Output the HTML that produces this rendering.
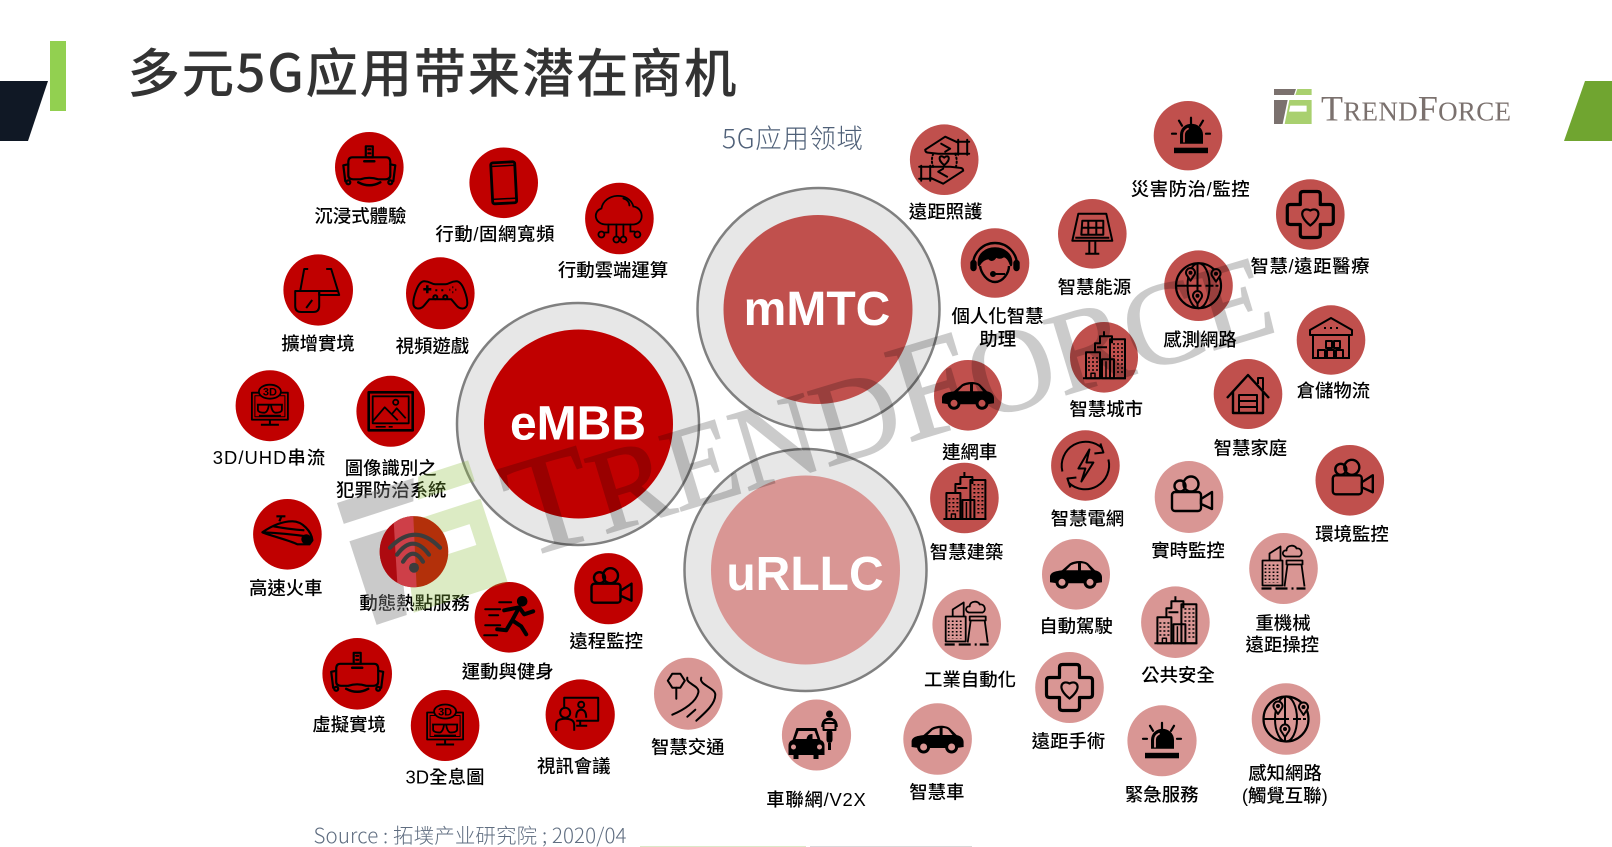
<!DOCTYPE html>
<html><head><meta charset="utf-8"><style>
html,body{margin:0;padding:0;background:#fff;width:1612px;height:847px;overflow:hidden}
svg{display:block}
.r{--c:#C00000}.m{--c:#C0504D}.u{--c:#D99694}
.c{fill:var(--c)}
.t{font-family:"Liberation Sans","Noto Sans CJK TC",sans-serif;font-size:18.4px;font-weight:500;fill:#000;text-anchor:middle}
.b{font-family:"Liberation Sans",sans-serif;font-weight:700;font-size:48px;fill:#fff;text-anchor:middle}
.d3{font-family:"Liberation Sans",sans-serif;font-size:11px;text-anchor:middle;fill:#000}
</style></head><body>
<svg width="1612" height="847" viewBox="0 0 1612 847" xmlns="http://www.w3.org/2000/svg">
<defs>
<clipPath id="wc"><ellipse cx="414" cy="551.700" rx="34.300" ry="35.600"/></clipPath>
<g id="vr" fill="none" stroke="#000" stroke-width="2.200" stroke-linejoin="round" stroke-linecap="round">
<rect x="-3.500" y="-21" width="7" height="11"/><path d="M-1,-18h2M-1,-14h2"/>
<path d="M-17,-10H17Q21,-10 21,-5V8Q21,12 16,12H9Q0,9 -9,12H-16Q-21,12 -21,8V-5Q-21,-10 -17,-10Z"/>
<path d="M-21,-3L-26,-2L-24,14M21,-3L26,-2L24,14"/>
<path d="M-11,15Q0,21 11,15" stroke-width="2.500"/><circle cx="-21" cy="15" r="2"/><circle cx="21" cy="15" r="2"/>
<path d="M-5,-6H5" stroke-width="2.500"/></g>
<g id="phone" fill="none" stroke="#000" stroke-width="2.800" stroke-linejoin="round"><g transform="rotate(-3)">
<rect x="-12" y="-20.500" width="24" height="41" rx="2"/><path d="M-12,-17H12M-12,16H12" stroke-width="1.500"/></g></g>
<g id="cloud" fill="none" stroke="#000" stroke-width="1.800" stroke-linecap="round">
<path d="M-13,6C-25,6 -27,-7 -18,-10C-15,-26 10,-27 14,-12C24,-11 26,5 14,6Z"/><path d="M4,-20C8,-19 10,-16 10,-13"/>
<path d="M-11,6V14H-15M-3,6V18M4,6V18M11,6V13H15"/>
<circle cx="-18" cy="16" r="3"/><circle cx="-3" cy="21" r="3"/><circle cx="4" cy="21" r="3"/><circle cx="18" cy="16" r="3"/></g>
<g id="ar" fill="none" stroke="#000" stroke-width="2" stroke-linejoin="round">
<path d="M-10,-21H-14L-18,1M8,-21H13L21,5H1V1H20"/><path d="M-23,1H1V16Q1,22 -5,22H-17Q-23,22 -23,16Z"/><path d="M-12,18L-6,10"/></g>
<g id="pad" fill="none" stroke="#000" stroke-width="2" stroke-linejoin="round">
<path d="M-16,-12C-10,-12 -9,-9 -5,-9H5C9,-9 10,-12 16,-12C23,-12 27,5 27,10C27,16 20,17 16,12L11,6H-11L-16,12C-20,17 -27,16 -27,10C-27,5 -23,-12 -16,-12Z"/>
<path d="M-17,-4H-9M-13,-8V0" stroke-width="2.500"/><path d="M-5,-3H-3M1,-3H3M12,-6h1M12,-1h1M9,-3.500h1M15,-3.500h1"/><circle cx="-5" cy="4" r="2"/><circle cx="5" cy="4" r="2"/></g>
<g id="mon" fill="none" stroke="#000" stroke-width="1.800" stroke-linejoin="round">
<rect x="-18" y="-13" width="36" height="27"/><rect x="-15" y="-10" width="30" height="21" stroke-width="1"/>
<ellipse cx="0" cy="-14" rx="11" ry="7" class="c"/>
<path d="M-13,-1H13M-12,-1V4Q-12,7 -5,7Q-2,6 -1,-1M12,-1V4Q12,7 5,7Q2,6 1,-1M-11,10H11"/>
<path d="M0,14V18M-9,19H9" stroke-width="2"/></g>
<g id="pic" fill="none" stroke="#000" stroke-width="2.200" stroke-linejoin="round">
<rect x="-22" y="-19" width="44" height="38" stroke-width="2.600"/><rect x="-18" y="-15" width="36" height="27" stroke-width="1.800"/>
<path d="M-18,10L-6,-4L7,9M1,3L6,-3L15,7" stroke-width="1.800"/><circle cx="5" cy="-9" r="2.600" stroke-width="1.800"/><path d="M-15,15.500H-5M-2,15.500H2" stroke-width="1.600"/></g>
<g id="train" fill="none" stroke="#000" stroke-width="2.200" stroke-linejoin="round">
<path d="M-25,-2C-15,-9 -5,-13 5,-13C15,-13 24,-3 25,6L22,10H10C2,6 -15,2 -25,-2Z"/><path d="M-24,-2Q-3,-1 19,2M-14,-8Q2,-5 17,-4"/><path d="M-8,-13L-6,-18M-11,-18H-2"/><circle cx="19" cy="5" r="4" fill="#000"/></g>
<g id="run" fill="none" stroke="#000" stroke-linecap="round" stroke-linejoin="round">
<circle cx="13" cy="-16" r="4.800" fill="#000"/>
<path d="M-5,-7L10,-10L3,3L12,9L17,17M3,3L-3,13L-12,12M10,-10L15,-3L24,-6" stroke-width="4"/>
<path d="M-10,-15H2M-24,-8H-9M-20,-2H-11M-24,8H-9M-25,18H-12" stroke-width="2"/></g>
<g id="cam" fill="none" stroke="#000" stroke-width="2.400" stroke-linejoin="round">
<circle cx="-9" cy="-11" r="5.500"/><circle cx="2" cy="-13" r="7.500"/><rect x="-17" y="-5" width="29" height="19" rx="3"/><path d="M12,2L23,-5V12L12,7Z"/></g>
<g id="conf" fill="none" stroke="#000" stroke-width="2" stroke-linejoin="round">
<path d="M-16,-6V-17H18V6H-4"/><path d="M0,6V11M-4,11H7"/><circle cx="1" cy="-10" r="3"/><path d="M-4,3Q-4,-5 1,-5Q6,-5 6,3"/>
<circle cx="-15" cy="-2" r="5"/><path d="M-24,16V10Q-24,4 -15,4Q-6,4 -6,10V16"/></g>
<g id="road" fill="none" stroke="#000" stroke-width="2" stroke-linejoin="round" stroke-linecap="round">
<path d="M-16,-20H-8L-3.500,-13L-8,-6H-16L-20.500,-13Z"/><path d="M-12,-6V5"/>
<path d="M-1,-16C-3,-10 12,-8 10,-1C8,8 -4,16 -16,21M13,-16C10,-9 27,-6 27,1C27,10 18,18 8,27M7,16L-1,23"/></g>
<g id="v2x" stroke-linejoin="round">
<path d="M-20,-7H0L4,5Q8,6 8,11V20H2V24H-3V20H-18V24H-23V20H-28V11Q-28,6 -24,5Z" fill="#000"/>
<path d="M-18,-4H-2L1,4H-21Z" style="fill:var(--c)"/><path d="M-10,4Q-9,-1 -5,-1H-4V4Z" fill="#000"/>
<circle cx="-23" cy="12" r="2.500" style="fill:var(--c)"/><circle cx="3" cy="12" r="2.500" style="fill:var(--c)"/>
<circle cx="13" cy="-21" r="3.500" fill="#000"/><path d="M6,-8Q6,-16 13,-16Q20,-16 20,-8" fill="none" stroke="#000" stroke-width="2.500"/>
<path d="M7,-12H19V-5H7Z" fill="none" stroke="#000" stroke-width="2"/><rect x="10" y="-5" width="6" height="13" rx="3" fill="#000"/><path d="M13,8V15" stroke="#000" stroke-width="3"/></g>
<g id="hands" fill="none" stroke="#000" stroke-width="2" stroke-linejoin="round" stroke-linecap="round">
<path d="M14,-20V-5M23,-20V-5M12,-18H25M12,-6H25"/>
<path d="M14,-17L1,-23L-19,-10Q-19,-7 -15,-7L-6,-6H14M-3,-16L6,-11L1,-8"/>
<path d="M-14,21V6M-23,21V6M-12,19H-25M-12,7H-25"/>
<path d="M-14,18L-1,24L19,11Q19,8 15,8L6,7H-14M3,17L-6,12L-1,9"/>
<path d="M0,5.500C-8,-1 -4,-6 0,-2C4,-6 8,-1 0,5.500Z"/>
<path d="M-11,-6Q-14,2 -10,9M11,-6Q14,2 11,9" stroke-dasharray="1.500 2.500"/></g>
<g id="alarm" stroke="#000" stroke-linecap="round">
<path d="M-11,8V-1A11.500,11 0 0 1 12,-1V8Z" fill="#000" stroke="none"/><path d="M-7,6V-1Q-7,-5 -3,-7" fill="none" style="stroke:var(--c)" stroke-width="1.800"/>
<rect x="-17" y="12" width="34" height="5.500" fill="#000" stroke="none"/>
<path d="M0,-18V-12M-12,-15L-9,-10M12,-15L9,-10M-19,-2H-15M19,-2H15" stroke-width="2.200"/></g>
<g id="solar" fill="none" stroke="#000" stroke-width="2" stroke-linejoin="round">
<path d="M-14,-20H14L20,7H-20ZM-17,4H17"/><path d="M-10,-13H11V1H-11ZM-10,-6H11M-4,-13V1M4,-13V1"/><path d="M-3,7V19M3,7V19M-7,20H7"/></g>
<g id="cross" fill="none" stroke="#000" stroke-width="3.200" stroke-linejoin="round">
<path d="M-10,-20Q-10,-23 -7,-23H7Q10,-23 10,-20V-10H20Q23,-10 23,-7V7Q23,10 20,10H10V20Q10,23 7,23H-7Q-10,23 -10,20V10H-20Q-23,10 -23,7V-7Q-23,-10 -20,-10H-10Z"/>
<path d="M0,11C-14,0 -7,-8 0,-4C7,-8 14,0 0,11Z" stroke-width="2.200"/></g>
<g id="agent" fill="none" stroke="#000" stroke-width="2.400" stroke-linejoin="round">
<path d="M-22,2A22,22 0 0 1 22,2"/><rect x="-23.500" y="-2" width="4" height="9" rx="2" fill="#000"/><rect x="19.500" y="-2" width="4" height="9" rx="2" fill="#000"/>
<path d="M-16,2C-19,-20 19,-20 16,2C14,-4 12,-6 9,-7C6,-5 3,-5 1,-7C-1,-3 -4,-2 -6,-5C-10,-5 -14,-2 -16,2Z" fill="#000"/>
<path d="M-15,3C-14,10 -8,19 0,19C8,19 14,10 14,3"/><path d="M-2,11H10" stroke-width="2"/><circle cx="-2" cy="11" r="1.800" fill="#000"/></g>
<g id="globe" fill="none" stroke="#000" stroke-width="2" stroke-linejoin="round">
<circle r="22.500" stroke-width="2.200"/><ellipse rx="11" ry="22.500"/><path d="M-22,0H3M-1,-22V22"/><path d="M7,0H22" stroke-dasharray="3 2"/>
<path d="M-8,-5L-12,-11A4.500,4.500 0 1 1 -4,-11Z" style="fill:var(--c)"/><circle cx="-8" cy="-13" r="1"/>
<path d="M17.500,-4L13.500,-10A4.500,4.500 0 1 1 21.500,-10Z" style="fill:var(--c)"/><circle cx="17.500" cy="-12" r="1"/>
<path d="M-1,18L-5,12A4.500,4.500 0 1 1 3,12Z" style="fill:var(--c)"/><circle cx="-1" cy="10" r="1"/></g>
<g id="ware" fill="none" stroke="#000" stroke-width="2" stroke-linejoin="round">
<path d="M-21,-10L0,-22L21,-10V-5H-21Z"/><path d="M-18,-5V18M18,-5V18M-19,18H19"/><path d="M-7,-12h2M-1,-12h2M5,-12h2"/>
<rect x="-5" y="1" width="6" height="7"/><rect x="3" y="1" width="6" height="7"/><rect x="-13" y="10" width="7" height="8"/><rect x="-4" y="10" width="7" height="8"/><rect x="5" y="10" width="7" height="8"/></g>
<g id="city" fill="none" stroke="#000" stroke-width="2" stroke-linejoin="round">
<path d="M-21,21H22"/><rect x="-18" y="-5" width="14" height="26"/><path d="M-9,-5V-14H-4V-21H8V-14M0,-21V-26M-7,-10H3"/><rect x="6" y="-18" width="15" height="39"/>
<rect x="-2" y="2" width="12" height="19"/><path d="M2,4V21M6,4V21" stroke-width="1.500"/>
<path d="M-15,0V16M-11,0V16M-7,0V16M10,-14V0M14,-14V16M18,-14V16" stroke-width="2" stroke-dasharray="1.500 2.500"/><rect x="-13" y="16" width="4" height="5" stroke-width="1.500"/></g>
<g id="car"><path d="M-26,3C-26,-2 -21,-3 -14,-4L-6,-11C-1,-14 8,-14 12,-11L19,-4C24,-3 26,0 26,3V8L19,9H-19L-26,8Z" fill="#000"/>
<path d="M-10,-4L-5,-9Q-2,-10.500 2,-11V-4ZM5,-11Q9,-11 11,-9L15,-4H5Z" style="fill:var(--c)"/>
<circle cx="-14" cy="8" r="5" style="fill:var(--c)" stroke="#000" stroke-width="3"/><circle cx="14" cy="8" r="5" style="fill:var(--c)" stroke="#000" stroke-width="3"/></g>
<g id="house" fill="none" stroke="#000" stroke-width="2.400" stroke-linejoin="round">
<path d="M-21,4L0,-19L21,4"/><path d="M10,-10V-16H15V-4" stroke-width="2"/><path d="M-15,-2V19H15V-2"/><path d="M-9,19V1H9V19M-9,7H9M-9,13H9" stroke-width="2"/></g>
<g id="bolt" fill="none" stroke="#000" stroke-width="2" stroke-linejoin="round">
<path d="M-23,6A24,24 0 0 1 17,-17"/><path d="M9,-12L18,-13L15,-22"/><path d="M23,-6A24,24 0 0 1 -17,17"/><path d="M-9,12L-18,13L-15,22"/>
<path d="M4,-16L-7,3H0L-4,16L8,-3H1Z"/></g>
<g id="fact" fill="none" stroke="#000" stroke-width="1.800" stroke-linejoin="round">
<path d="M-22,20H-12M-8,20H4M8,20H10M13,20H22" stroke-width="2.200"/>
<rect x="-21" y="-8" width="20" height="25"/><path d="M-14,-8V-15L-3,-22V-8"/>
<path d="M-18,-4V14M-14,-4V14M-10,-4V14M-6,-4V14" stroke-dasharray="1.500 2"/>
<path d="M3,-8H19V-4H3ZM4,-4L1,18M18,-4L21,18"/>
<path d="M2,-12C-3,-14 0,-19 3,-18C3,-24 12,-24 13,-20C18,-21 20,-14 16,-12Z"/></g>
</defs>

<!-- slide chrome -->
<polygon points="0,81 48,81 28,141 0,141" fill="#101825"/>
<rect x="50" y="41" width="16" height="70" fill="#92D050"/>
<polygon points="1585,81 1612,81 1612,141 1564,141" fill="#70A530"/>
<text x="127.500" y="92" font-family="'Noto Sans CJK SC',sans-serif" font-size="52.500" font-weight="500" fill="#333" textLength="609" lengthAdjust="spacing">多元5G应用带来潜在商机</text>
<text x="722" y="148" font-family="'Noto Sans CJK SC',sans-serif" font-size="26.500" font-weight="300" fill="#4f6078" textLength="141">5G应用领域</text>

<!-- logo -->
<g transform="translate(1274,89) scale(.333)">
<polygon points="0,0 66,0 60,18 0,18" fill="#7b716e"/><polygon points="0,33 41,33 26,105 0,105" fill="#7b716e"/>
<polygon points="70,0 113,0 113,18 64,18" fill="#A9D06F"/><polygon points="46,33 113,33 113,105 32,105" fill="#A9D06F"/><polygon points="49,50 98,50 98,68 45,68" fill="#fff"/>
</g>
<text x="1321" y="120.500" font-family="'Liberation Serif',serif" fill="#7b716e" textLength="190" lengthAdjust="spacing"><tspan font-size="36">T</tspan><tspan font-size="27">REND</tspan><tspan font-size="36">F</tspan><tspan font-size="27">ORCE</tspan></text>

<!-- big circles -->
<circle cx="578" cy="424" r="121" fill="#E7E7E7" stroke="#808080" stroke-width="2.500"/><circle cx="578.500" cy="424" r="94.500" fill="#C00000"/>
<circle cx="818.500" cy="309" r="121" fill="#E7E7E7" stroke="#808080" stroke-width="2.500"/><circle cx="818" cy="309.500" r="94.500" fill="#C0504D"/>
<circle cx="805.500" cy="570" r="121" fill="#E7E7E7" stroke="#808080" stroke-width="2.500"/><circle cx="805.500" cy="570" r="94.500" fill="#D99694"/>
<text class="b" x="578" y="439.500">eMBB</text><text class="b" x="817" y="325">mMTC</text><text class="b" x="805" y="590">uRLLC</text>

<!-- red: eMBB -->
<g class="r">
<g transform="translate(369.300,167.300)"><ellipse class="c" rx="34.300" ry="35.300"/><use href="#vr"/></g>
<g transform="translate(503.700,182.800)"><ellipse class="c" rx="34.300" ry="35.300"/><use href="#phone"/></g>
<g transform="translate(619.400,218.500)"><ellipse class="c" rx="34.300" ry="35.800"/><use href="#cloud"/></g>
<g transform="translate(318.200,290)"><ellipse class="c" rx="34.800" ry="35.600"/><use href="#ar"/></g>
<g transform="translate(440.300,293.300)"><ellipse class="c" rx="34.300" ry="36"/><use href="#pad"/></g>
<g transform="translate(269.900,405.700)"><ellipse class="c" rx="34.300" ry="35.500"/><use href="#mon"/><text class="d3" y="-10" font-weight="700">3D</text></g>
<g transform="translate(390.700,411.300)"><ellipse class="c" rx="34.300" ry="35.500"/><use href="#pic"/></g>
<g transform="translate(287.400,534.300)"><ellipse class="c" rx="34.300" ry="35.300"/><use href="#train"/></g>
<g transform="translate(509.200,617.300)"><ellipse class="c" rx="34.600" ry="35.300"/><use href="#run"/></g>
<g transform="translate(608.500,588.700)"><ellipse class="c" rx="34.300" ry="35.600"/><use href="#cam"/></g>
<g transform="translate(357.200,673.800)"><ellipse class="c" rx="34.800" ry="35.800"/><use href="#vr"/></g>
<g transform="translate(445.100,725.500)"><ellipse class="c" rx="34.300" ry="35.500"/><use href="#mon"/><text class="d3" y="-10" font-weight="700">3D</text></g>
<g transform="translate(580.200,714.700)"><ellipse class="c" rx="34.600" ry="35.300"/><use href="#conf"/></g>
</g>

<!-- mMTC -->
<g class="m">
<g transform="translate(944.200,159.700)"><ellipse class="c" rx="34.300" ry="35.300"/><use href="#hands"/></g>
<g transform="translate(1188,135.700)"><ellipse class="c" rx="34.300" ry="34.700"/><use href="#alarm" x="3"/></g>
<g transform="translate(1092.300,233.800)"><ellipse class="c" rx="34.300" ry="34.800"/><use href="#solar"/></g>
<g transform="translate(1310.300,214.500)"><ellipse class="c" rx="34.300" ry="35.200"/><use href="#cross"/></g>
<g transform="translate(995,263)"><ellipse class="c" rx="34.300" ry="34.800"/><use href="#agent"/></g>
<g transform="translate(1198.500,285.700)"><ellipse class="c" rx="34.300" ry="35.300"/><use href="#globe"/></g>
<g transform="translate(1331,340)"><ellipse class="c" rx="34.300" ry="34.700"/><use href="#ware"/></g>
<g transform="translate(1104,357.300)"><ellipse class="c" rx="34" ry="35.300"/><use href="#city"/></g>
<g transform="translate(968,395.300)"><ellipse class="c" rx="34" ry="35.300"/><use href="#car"/></g>
<g transform="translate(1248,394)"><ellipse class="c" rx="34.300" ry="35"/><use href="#house"/></g>
<g transform="translate(1085.400,465.500)"><ellipse class="c" rx="34.300" ry="35.200"/><use href="#bolt"/></g>
<g transform="translate(964.400,498)"><ellipse class="c" rx="34.300" ry="35.300"/><use href="#city"/></g>
<g transform="translate(1349.800,480.300)"><ellipse class="c" rx="34.300" ry="35.300"/><use href="#cam"/></g>
</g>

<!-- uRLLC -->
<g class="u">
<g transform="translate(688.300,693.700)"><ellipse class="c" rx="34.300" ry="36"/><use href="#road"/></g>
<g transform="translate(816.500,735)"><ellipse class="c" rx="34.600" ry="35.500"/><use href="#v2x"/></g>
<g transform="translate(1189,497)"><ellipse class="c" rx="34.300" ry="36"/><use href="#cam"/></g>
<g transform="translate(1076,574.300)"><ellipse class="c" rx="34" ry="35.300"/><use href="#car"/></g>
<g transform="translate(1283.500,568.500)"><ellipse class="c" rx="34.300" ry="35.500"/><use href="#fact"/></g>
<g transform="translate(966.700,624.500)"><ellipse class="c" rx="34.300" ry="35.500"/><use href="#fact"/></g>
<g transform="translate(1175.400,622.200)"><ellipse class="c" rx="34.300" ry="35.800"/><use href="#city"/></g>
<g transform="translate(1069.500,687.500)"><ellipse class="c" rx="34.300" ry="35.500"/><use href="#cross"/></g>
<g transform="translate(937.600,739)"><ellipse class="c" rx="34.300" ry="35.800"/><use href="#car"/></g>
<g transform="translate(1162,740.800)"><ellipse class="c" rx="34.600" ry="35.500"/><use href="#alarm"/></g>
<g transform="translate(1286,719)"><ellipse class="c" rx="34.300" ry="35.800"/><use href="#globe"/></g>
</g>

<!-- labels -->
<text class="t" x="360.400" y="222.700">沉浸式體驗</text>
<text class="t" x="494.900" y="240.300" textLength="119">行動/固網寬頻</text>
<text class="t" x="613" y="276.300">行動雲端運算</text>
<text class="t" x="318" y="350">擴增實境</text>
<text class="t" x="432.400" y="352.700">視頻遊戲</text>
<text class="t" x="269" y="464" textLength="112.500">3D/UHD串流</text>
<text class="t" x="390.700" y="474.300">圖像識別之</text>
<text class="t" x="391.200" y="496.700">犯罪防治系統</text>
<text class="t" x="285.800" y="594.700">高速火車</text>
<text class="t" x="414.600" y="609.700">動態熱點服務</text>
<text class="t" x="507.700" y="678">運動與健身</text>
<text class="t" x="606.200" y="647.300">遠程監控</text>
<text class="t" x="349.100" y="731">虛擬實境</text>
<text class="t" x="445" y="783.700" textLength="79">3D全息圖</text>
<text class="t" x="573.800" y="772.700">視訊會議</text>
<text class="t" x="687.800" y="753.300">智慧交通</text>
<text class="t" x="816" y="806" textLength="99.500">車聯網/V2X</text>
<text class="t" x="945.600" y="218">遠距照護</text>
<text class="t" x="1190.200" y="195.300" textLength="119">災害防治/監控</text>
<text class="t" x="1094.400" y="293.700">智慧能源</text>
<text class="t" x="1310" y="272.700" textLength="119">智慧/遠距醫療</text>
<text class="t" x="997.500" y="322.700">個人化智慧</text>
<text class="t" x="997.700" y="345.300">助理</text>
<text class="t" x="1200" y="346">感測網路</text>
<text class="t" x="1333.400" y="397">倉儲物流</text>
<text class="t" x="1106.200" y="415.300">智慧城市</text>
<text class="t" x="969.700" y="458.700">連網車</text>
<text class="t" x="1250.400" y="454.300">智慧家庭</text>
<text class="t" x="1087.400" y="525">智慧電網</text>
<text class="t" x="966.600" y="558.300">智慧建築</text>
<text class="t" x="1188" y="557">實時監控</text>
<text class="t" x="1352" y="540.300">環境監控</text>
<text class="t" x="1076" y="632.300">自動駕駛</text>
<text class="t" x="1283" y="629.300">重機械</text>
<text class="t" x="1282.300" y="651">遠距操控</text>
<text class="t" x="970" y="686">工業自動化</text>
<text class="t" x="1178" y="681.700">公共安全</text>
<text class="t" x="1068.400" y="747.700">遠距手術</text>
<text class="t" x="936.800" y="798.700">智慧車</text>
<text class="t" x="1161.700" y="801">緊急服務</text>
<text class="t" x="1285" y="779.300">感知網路</text>
<text class="t" x="1284.800" y="802">(觸覺互聯)</text>

<text x="313.500" y="843" font-family="'Noto Sans CJK SC',sans-serif" font-size="20.500" font-weight="300" fill="#5f6d80" textLength="313">Source : 拓墣产业研究院 ; 2020/04</text>
<rect x="640" y="846" width="166" height="1" fill="#dbe8c8"/><rect x="810" y="846" width="162" height="1" fill="#d9d9d9"/>

<!-- watermark -->
<g transform="translate(337,503) rotate(-18) scale(1.22)">
<polygon points="0,0 66,0 60,18 0,18" fill="#808080" fill-opacity=".42"/><polygon points="0,33 41,33 26,105 0,105" fill="#808080" fill-opacity=".42"/>
<polygon points="70,0 113,0 113,18 64,18" fill="#8CBE3C" fill-opacity=".3"/><path d="M46,33H113V105H32ZM49,50L45,68H98V50Z" fill="#8CBE3C" fill-opacity=".3" fill-rule="evenodd"/>
</g>
<g opacity=".2"><text transform="translate(522,559) rotate(-16.800)" font-family="'Liberation Serif',serif" fill="#000" stroke="#000" stroke-width="1.500" textLength="792" lengthAdjust="spacing"><tspan font-size="141">T</tspan><tspan font-size="118">REND</tspan><tspan font-size="141">F</tspan><tspan font-size="118">ORCE</tspan></text></g>

<!-- hotspot circle over the watermark -->
<g clip-path="url(#wc)">
<rect x="375" y="510" width="80" height="85" fill="#B3300A"/>
<polygon points="370,510 413,510 417,595 370,595" fill="#CE3F48"/>
<polygon points="370,510 393,510 398,595 370,595" fill="#AD0A10"/>
</g>
<g transform="translate(414,551.700)" fill="none" stroke="#3c3c3c" stroke-width="4.200" stroke-linecap="round">
<path d="M-24,-4Q1,-30 26,-4M-17,3Q-1,-19 15,3M-11,10Q-1,-6 9,10"/><circle cx="0" cy="16" r="5" fill="#3c3c3c" stroke="none"/></g>
</svg>
</body></html>
